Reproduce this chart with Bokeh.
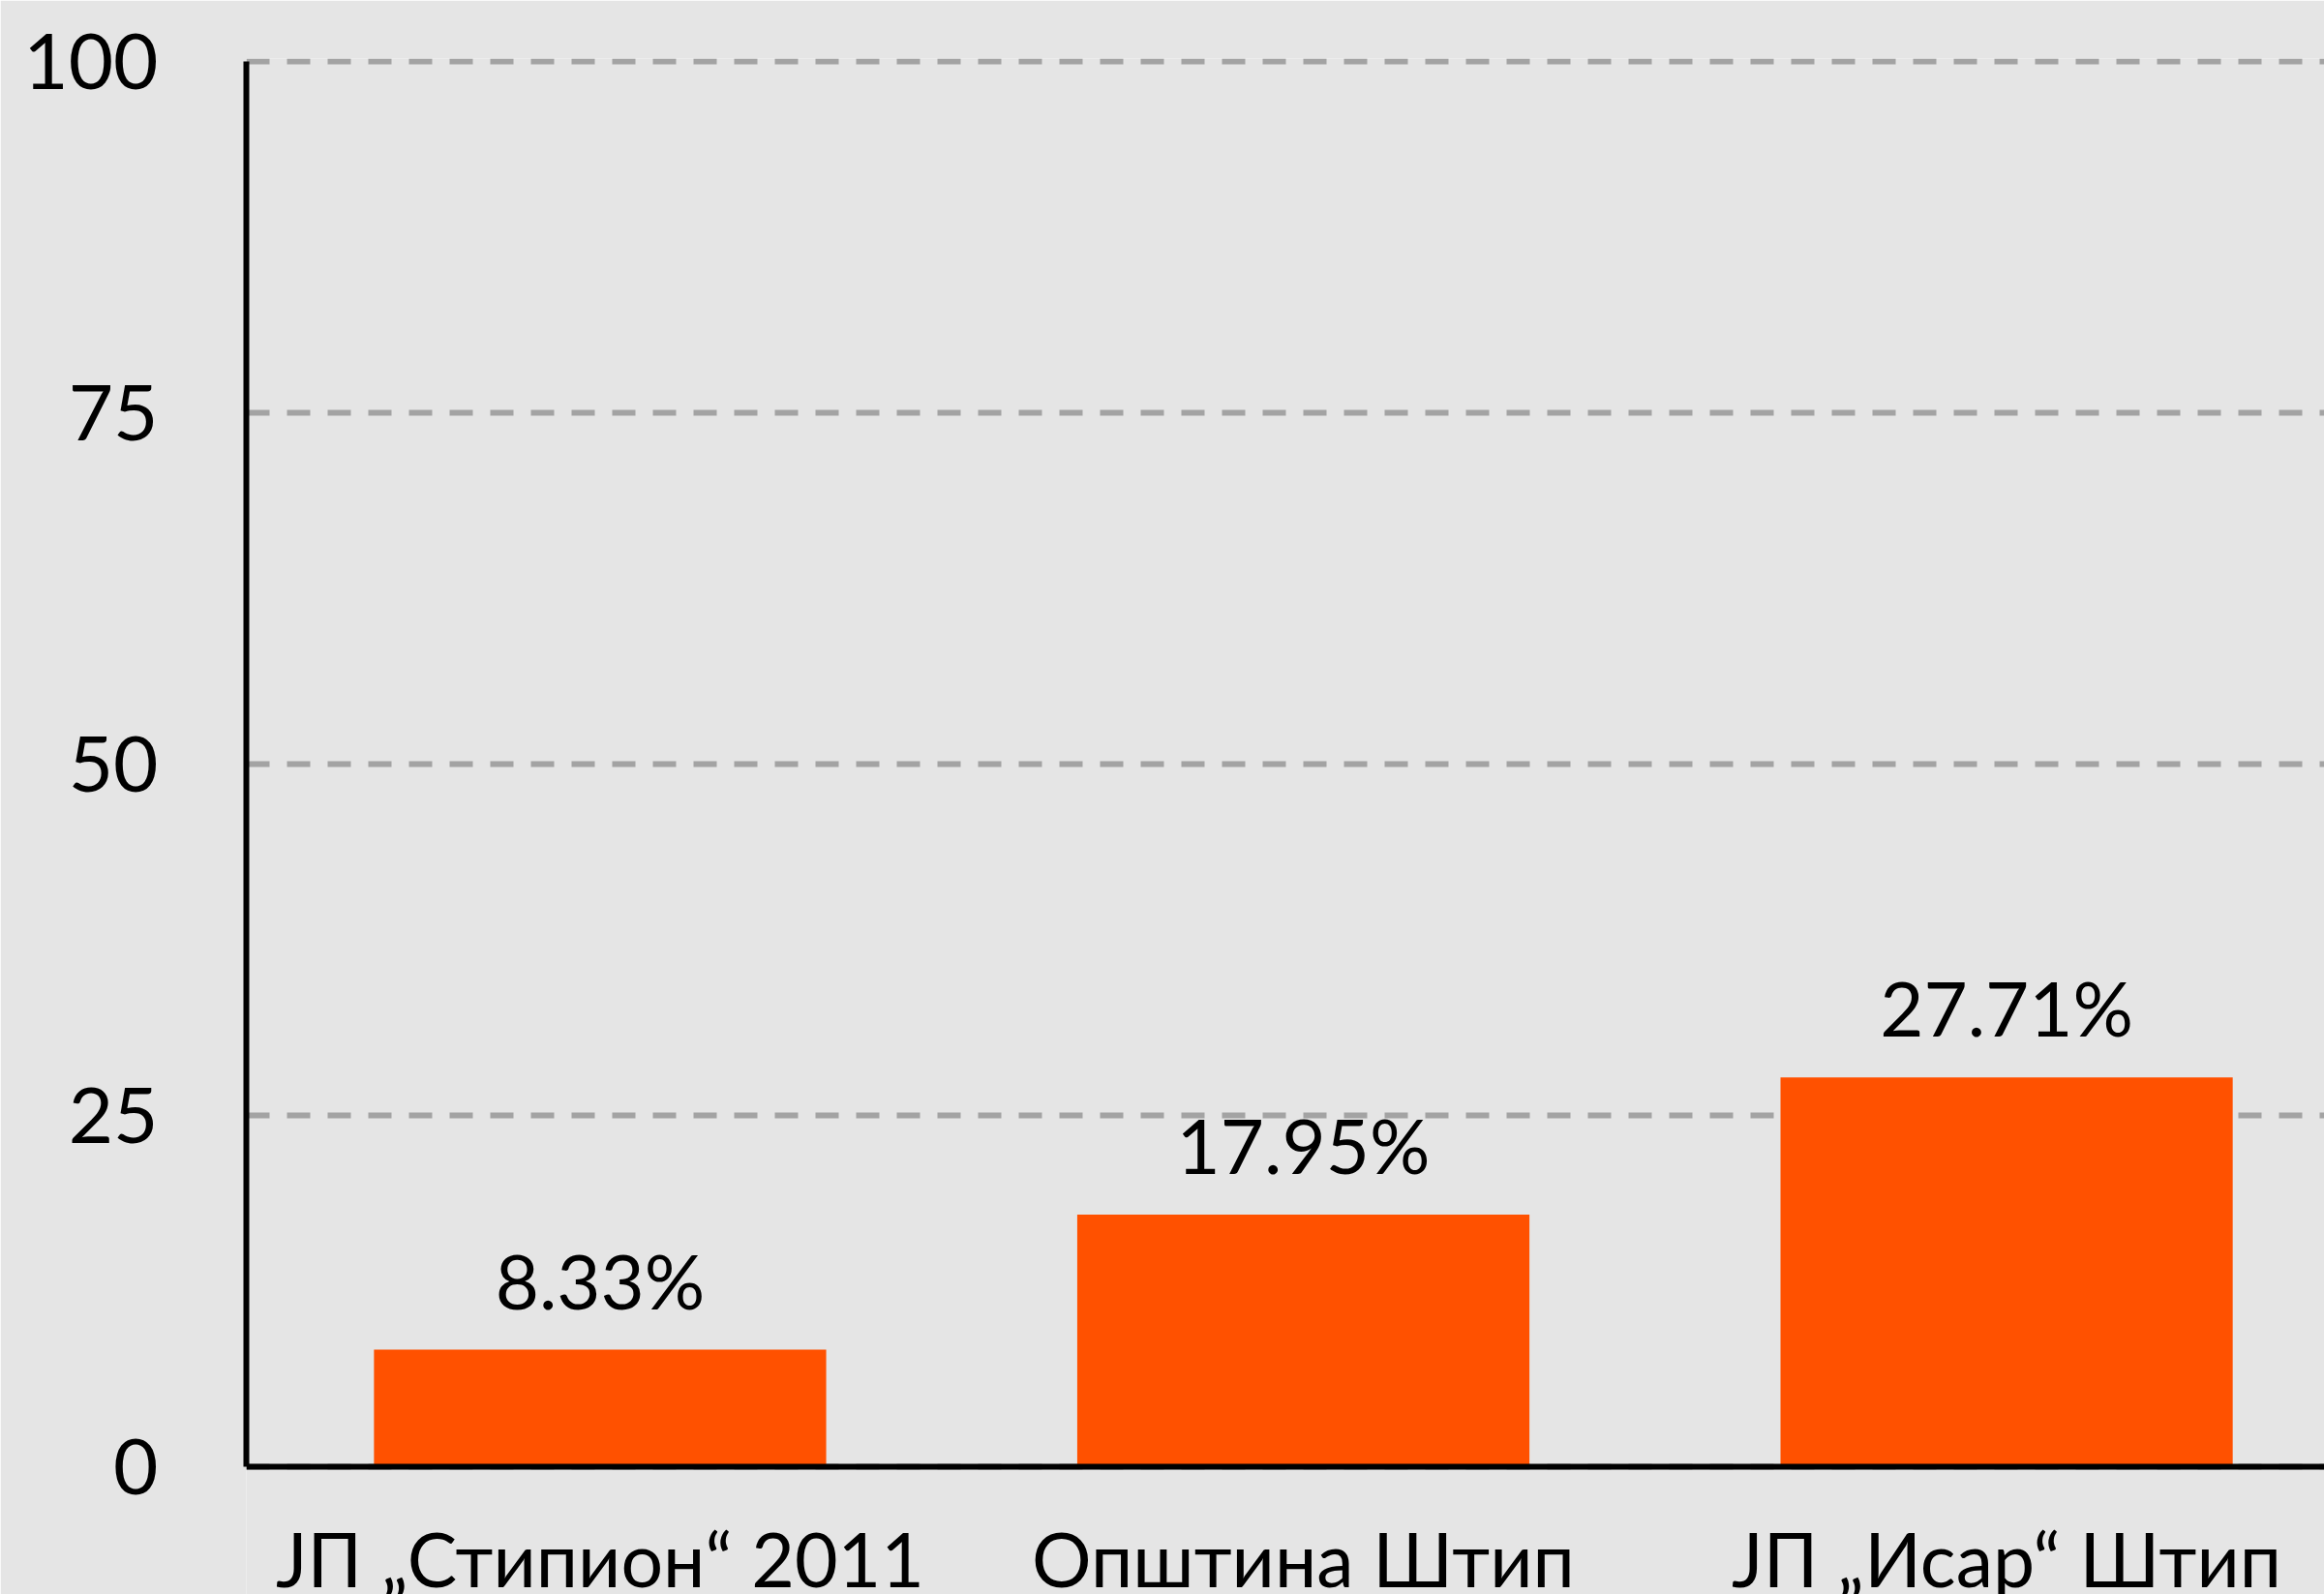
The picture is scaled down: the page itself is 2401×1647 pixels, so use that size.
from bokeh.plotting import figure
from bokeh.models import Range1d, FixedTicker, ColumnDataSource
from bokeh.core.properties import value
from bokeh.embed import file_html
from bokeh.resources import INLINE

categories = ["ЈП „Стипион“ 2011", "Општина Штип", "ЈП „Исар“ Штип"]
values = [8.33, 17.95, 27.71]
labels = ["8.33%", "17.95%", "27.71%"]
y_ticks = [0, 25, 50, 75, 100]

FONT = "Lato"
BG = "#e5e5e5"
BAR = "#ff5100"

xs = list(range(len(categories)))
src = ColumnDataSource(dict(x=xs, top=values, label=labels))

p = figure(width=2401, height=1647, output_backend="svg", toolbar_location=None,
           x_range=Range1d(-0.503, 2.452), y_range=Range1d(-9.09, 100.21),
           min_border_left=254, min_border_right=0, min_border_top=60, min_border_bottom=0)
p.background_fill_color = BG
p.border_fill_color = BG
p.outline_line_color = None

p.vbar(x="x", top="top", width=0.643, bottom=0, source=src, color=BAR, line_color=None)
p.text(x="x", y="top", text="label", source=src, text_align="center", text_baseline="bottom",
       y_offset=-25, text_font=value(FONT), text_font_size="78px", text_color="black")

p.xgrid.grid_line_color = None
p.ygrid.ticker = FixedTicker(ticks=y_ticks)
p.ygrid.grid_line_color = "#a3a3a3"
p.ygrid.grid_line_width = 6
p.ygrid.grid_line_dash = "24 18"

p.yaxis.ticker = FixedTicker(ticks=y_ticks)
p.yaxis.bounds = (0, 100)
p.yaxis.axis_line_width = 6
p.yaxis.axis_line_color = "black"
p.yaxis.major_tick_line_color = None
p.yaxis.minor_tick_line_color = None
p.yaxis.major_label_text_font = FONT
p.yaxis.major_label_text_font_size = "80px"
p.yaxis.major_label_text_color = "black"
p.yaxis.major_label_standoff = 85

p.xaxis.fixed_location = 0
p.xaxis.ticker = FixedTicker(ticks=xs)
p.xaxis.major_label_overrides = {i: c for i, c in zip(xs, categories)}
p.xaxis.axis_line_width = 6
p.xaxis.axis_line_color = "black"
p.xaxis.major_tick_line_color = None
p.xaxis.minor_tick_line_color = None
p.xaxis.major_label_text_font = FONT
p.xaxis.major_label_text_font_size = "77px"
p.xaxis.major_label_text_color = "black"
p.xaxis.major_label_standoff = 42

open("out.html", "w").write(file_html(p, INLINE))
